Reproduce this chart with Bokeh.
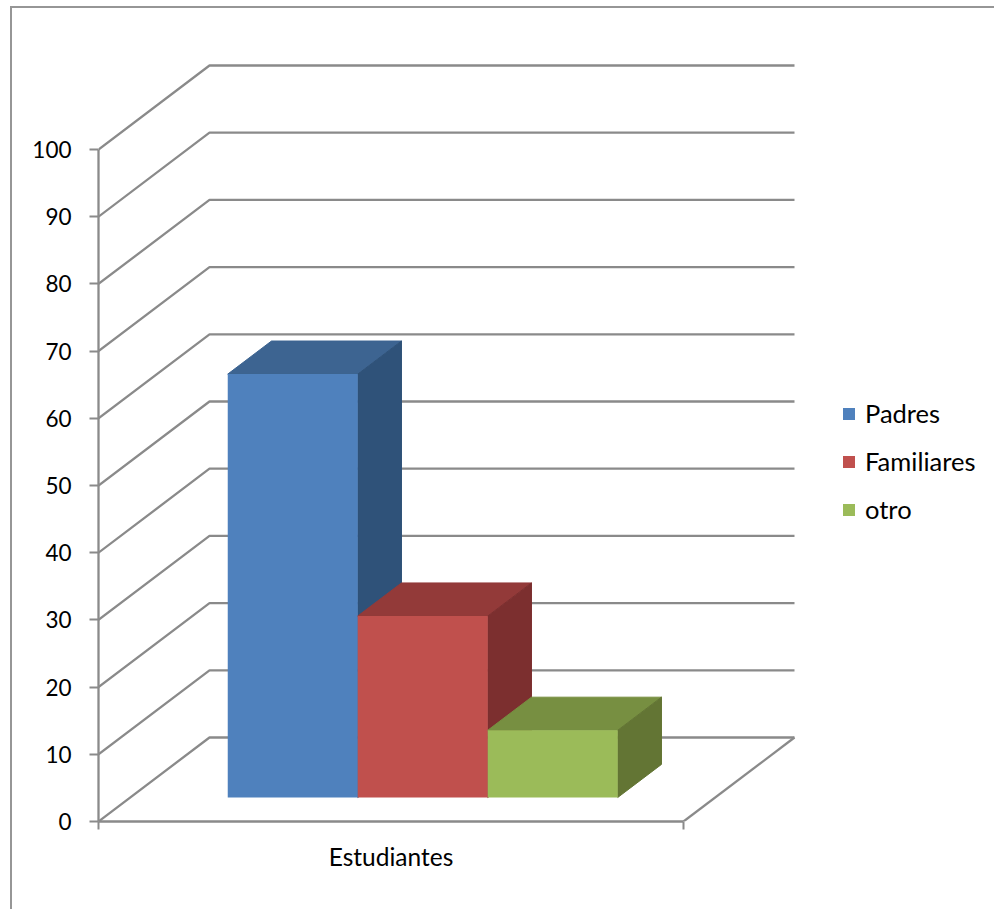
from bokeh.plotting import figure
from bokeh.embed import file_html
from bokeh.resources import INLINE
from bokeh.models import FixedTicker, Legend, LegendItem, Range1d, LinearAxis

category = "Estudiantes"
series = ["Padres", "Familiares", "otro"]
values = [63, 27, 10]
y_ticks = [0, 10, 20, 30, 40, 50, 60, 70, 80, 90, 100]
front_colors = ["#4F81BD", "#C0504D", "#9BBB59"]
top_colors = ["#3D6491", "#933A39", "#778F41"]
side_colors = ["#2F5279", "#7C2F2F", "#637534"]

GRID = "#8A8A8A"
FONT = "Lato"
TICK_SIZE = "22.5px"
LABEL_SIZE = "24.5px"
LEGEND_SIZE = "25.5px"

# oblique projection: depth 0..1 shifts a point right and up
DX = 111 / 585
DY = 84 / 6.72
BAR_W = 2 / 9
GAP = 1 / 6
D0, D1 = 0.286, 0.68


def proj(x, v, d):
    return x + d * DX, v + d * DY


p = figure(
    width=982, height=903, output_backend="svg", toolbar_location=None,
    x_range=Range1d(0, 702 / 585), y_range=Range1d(0, 761 / 6.72),
    frame_width=702, frame_height=761,
    min_border_left=86, min_border_right=194, min_border_top=52, min_border_bottom=90,
    x_axis_type=None, y_axis_type=None, outline_line_color=None,
    margin=(8, 0, 0, 12),
    styles={"box-shadow": "-2px -2px 0 0 #969696"},
)
p.grid.visible = False

# walls and floor
wx, wy = [], []
for t in y_ticks:
    a = proj(0, t, 0)
    b = proj(0, t, 1)
    c = proj(1, t, 1)
    wx.append([a[0], b[0], c[0]])
    wy.append([a[1], b[1], c[1]])
a, b = proj(1, 0, 0), proj(1, 0, 1)
wx.append([a[0], b[0]])
wy.append([a[1], b[1]])
p.multi_line(wx, wy, line_color=GRID, line_width=2.3)

# bars
items = []
for i, (name, v) in enumerate(zip(series, values)):
    x0 = GAP + i * BAR_W
    x1 = x0 + BAR_W
    fl = proj(x0, v, D0)
    fr = proj(x1, v, D0)
    bl = proj(x0, v, D1)
    br = proj(x1, v, D1)
    fr0 = proj(x1, 0, D0)
    br0 = proj(x1, 0, D1)
    fl0 = proj(x0, 0, D0)
    p.patch([fl[0], fr[0], br[0], bl[0]], [fl[1], fr[1], br[1], bl[1]],
            fill_color=top_colors[i], line_color=top_colors[i], line_width=1)
    p.patch([fr[0], br[0], br0[0], fr0[0]], [fr[1], br[1], br0[1], fr0[1]],
            fill_color=side_colors[i], line_color=side_colors[i], line_width=1)
    r = p.quad(left=[fl0[0]], right=[fr0[0]], bottom=[fl0[1]], top=[fl[1]],
               fill_color=front_colors[i], line_color=None)
    items.append(LegendItem(label=name, renderers=[r]))

# axes
ya = LinearAxis(ticker=FixedTicker(ticks=y_ticks), bounds=(0, 100))
ya.axis_line_color = GRID
ya.axis_line_width = 2.3
ya.major_tick_line_color = GRID
ya.major_tick_line_width = 2
ya.major_tick_out = 9
ya.major_tick_in = 0
ya.minor_tick_out = 0
ya.minor_tick_in = 0
ya.major_label_text_font = FONT
ya.major_label_text_font_size = TICK_SIZE
ya.major_label_text_color = "#000000"
ya.major_label_standoff = 18
p.add_layout(ya, "left")

xa = LinearAxis(ticker=FixedTicker(ticks=[0.5], minor_ticks=[0, 1]), bounds=(0, 1))
xa.major_label_overrides = {0.5: category}
xa.axis_line_color = GRID
xa.axis_line_width = 2.3
xa.major_tick_out = 0
xa.major_tick_in = 0
xa.minor_tick_line_color = GRID
xa.minor_tick_line_width = 2
xa.minor_tick_out = 8
xa.minor_tick_in = 0
xa.major_label_text_font = FONT
xa.major_label_text_font_size = LABEL_SIZE
xa.major_label_text_color = "#000000"
xa.major_label_standoff = 12
p.add_layout(xa, "below")

legend = Legend(
    items=items, location=(41, 297), padding=0, margin=0,
    border_line_color=None, background_fill_color=None,
    glyph_width=15, glyph_height=15, label_standoff=9, spacing=18,
    label_text_font=FONT, label_text_font_size=LEGEND_SIZE, label_text_color="#000000",
    label_height=15,
)
p.add_layout(legend, "right")

open("out.html", "w").write(file_html(p, INLINE))
